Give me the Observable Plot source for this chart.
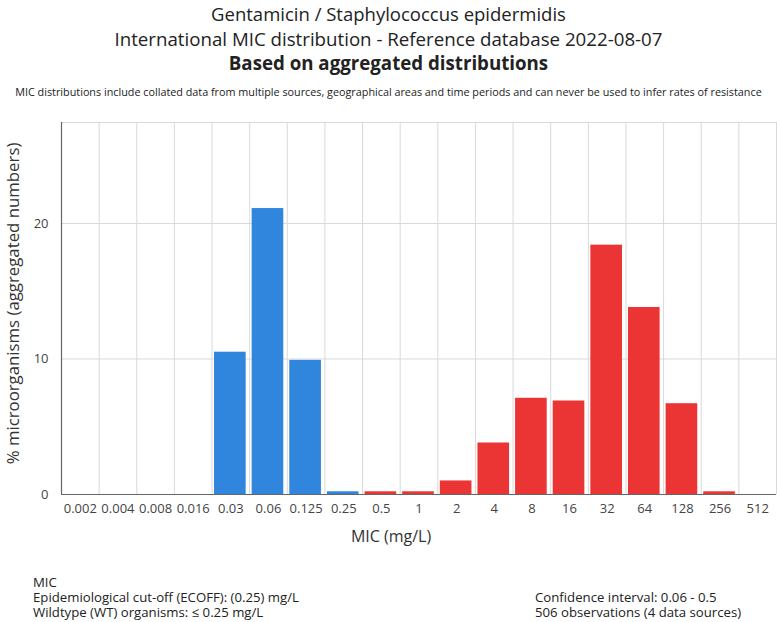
<!DOCTYPE html>
<html>
<head>
<meta charset="utf-8">
<script src="https://cdn.jsdelivr.net/npm/d3@7"></script>
<script src="https://cdn.jsdelivr.net/npm/@observablehq/plot@0.6"></script>
<style>
  html, body { margin: 0; padding: 0; background: #fff; }
  body { width: 777px; height: 622px; position: relative; overflow: hidden; font-family: "Open Sans", sans-serif; color: #222; }
  .t { position: absolute; left: 0; width: 777px; text-align: center; white-space: nowrap; }
  #t1 { top: 1px; font-size: 18.5px; }
  #t2 { top: 26px; font-size: 18.7px; }
  #t3 { top: 50px; font-size: 18.7px; font-weight: bold; }
  #t4 { top: 84px; font-size: 10.8px; }
  #chart { position: absolute; left: 0; top: 110px; }
  .foot { position: absolute; font-size: 13.2px; line-height: 15px; color: #222; white-space: nowrap; }
  #f1 { left: 33px; top: 575px; }
  #f2 { left: 535px; top: 590px; }
</style>
</head>
<body>
<div class="t" id="t1">Gentamicin / Staphylococcus epidermidis</div>
<div class="t" id="t2">International MIC distribution - Reference database 2022-08-07</div>
<div class="t" id="t3">Based on aggregated distributions</div>
<div class="t" id="t4">MIC distributions include collated data from multiple sources, geographical areas and time periods and can never be used to infer rates of resistance</div>
<div id="chart"></div>
<div class="foot" id="f1">MIC<br>Epidemiological cut-off (ECOFF): (0.25) mg/L<br>Wildtype (WT) organisms: ≤ 0.25 mg/L</div>
<div class="foot" id="f2">Confidence interval: 0.06 - 0.5<br>506 observations (4 data sources)</div>
<script>
const micLabels = ["0.002","0.004","0.008","0.016","0.03","0.06","0.125","0.25","0.5","1","2","4","8","16","32","64","128","256","512"];
const micValues = [0.002,0.004,0.008,0.016,0.03,0.06,0.125,0.25,0.5,1,2,4,8,16,32,64,128,256,512];
const percent   = [0,0,0,0,10.5,21.1,9.9,0.2,0.2,0.2,1.0,3.8,7.1,6.9,18.4,13.8,6.7,0.2,0];
const ecoff = 0.25;
const yTicks = [0, 10, 20];
const yMax = 27.45;

const data = micLabels.map((m, i) => ({
  i, mic: m, pct: percent[i], group: micValues[i] <= ecoff ? "WT" : "NWT"
}));
const bounds = d3.range(micLabels.length + 1);
const centers = d3.range(micLabels.length).map(i => i + 0.5);

const chart = Plot.plot({
  width: 777,
  height: 450,
  marginTop: 12,
  marginBottom: 66,
  marginLeft: 61,
  marginRight: 1,
  style: { fontFamily: "Open Sans, sans-serif", fontSize: "13px", color: "#444", background: "#fff" },
  x: { type: "linear", domain: [0, micLabels.length], axis: null },
  y: { domain: [0, yMax], axis: null },
  color: { domain: ["WT", "NWT"], range: ["#2F86DC", "#EB3535"] },
  marks: [
    Plot.ruleX(bounds, { stroke: "#d9d9d9", strokeWidth: 1 }),
    Plot.ruleY(yTicks.filter(d => d > 0).concat([yMax]), { stroke: "#d9d9d9", strokeWidth: 1 }),
    Plot.rectY(data.filter(d => d.pct > 0), {
      x1: d => d.i, x2: d => d.i + 1, y: "pct", fill: "group",
      insetLeft: 2.5, insetRight: 3.5
    }),
    Plot.ruleY([0], { stroke: "#666", strokeWidth: 1.2 }),
    Plot.ruleX([0], { stroke: "#666", strokeWidth: 1.2 }),
    Plot.axisX(centers, { tickFormat: d => micLabels[Math.round(d - 0.5)], tickSize: 0, tickPadding: 9, label: null, fill: "#444" }),
    Plot.axisY(yTicks, { tickSize: 0, tickPadding: 13, label: null, fill: "#444" }),
    Plot.text(["MIC (mg/L)"], { frameAnchor: "bottom", textAnchor: "middle", dx: -28, dy: 47, fontSize: 16, fill: "#333" }),
    Plot.text(["% microorganisms (aggregated numbers)"], { frameAnchor: "left", textAnchor: "middle", rotate: -90, dx: -48, dy: -5, fontSize: 16.8, fill: "#333" })
  ]
});
document.getElementById("chart").appendChild(chart);
</script>
</body>
</html>
